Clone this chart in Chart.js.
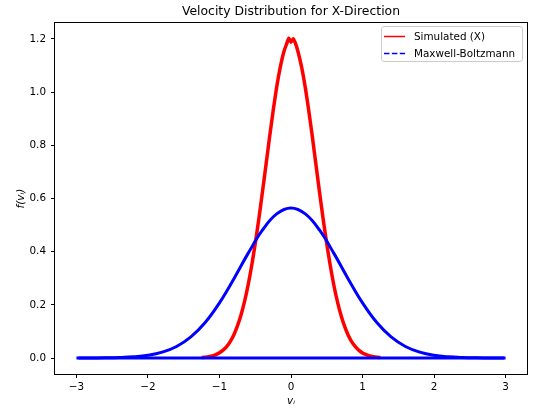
<!DOCTYPE html>
<html><head><meta charset="utf-8">
<script src="https://cdn.jsdelivr.net/npm/chart.js@4.4.0/dist/chart.umd.min.js"></script>
<style>
html,body{margin:0;padding:0;background:#fff;}
#wrap{position:relative;width:533px;height:408px;}
#title{position:absolute;left:55px;width:472px;top:4px;height:14px;line-height:14px;text-align:center;font-family:"DejaVu Sans",sans-serif;font-size:12.4px;color:#000;white-space:nowrap;}
#legend{position:absolute;left:381px;top:26px;width:142px;height:36px;border:1px solid #cccccc;border-radius:3px;background:rgba(255,255,255,0.8);font-family:"DejaVu Sans",sans-serif;font-size:10.4px;color:#000;box-sizing:border-box;}
.row{position:absolute;left:0;height:14px;line-height:14px;white-space:nowrap;}
.row svg{position:absolute;left:2px;top:0;}
.row span{position:absolute;left:32px;top:0;}
</style></head>
<body><div id="wrap"><canvas id="c" width="533" height="408"></canvas><div id="title"></div><div id="legend"></div></div>
<script>
const chartTitle = "Velocity Distribution for X-Direction";
const xAxisLabel = "vᵢ";
const yAxisLabel = "f(vᵢ)";
const seriesNames = ["Simulated (X)", "Maxwell-Boltzmann"];
const xTicks = [-3, -2, -1, 0, 1, 2, 3];
const yTicks = [0, 0.2, 0.4, 0.6, 0.8, 1.0, 1.2];

// Simulated distribution (red)
const simX = [-1.25,-1.2,-1.15,-1.1,-1.05,-1.0,-0.95,-0.9,-0.85,-0.8,-0.75,-0.7,-0.65,-0.6,-0.55,-0.5,-0.45,-0.4,-0.35,-0.3,-0.25,-0.2,-0.15,-0.1,
  -0.06,-0.03,0,0.03,0.06,
  0.1,0.15,0.2,0.25,0.3,0.35,0.4,0.45,0.5,0.55,0.6,0.65,0.7,0.75,0.8,0.85,0.9,0.95,1.0,1.05,1.1,1.15,1.2,1.25];
const simY = [0.002,0.003,0.005,0.008,0.013,0.020,0.030,0.043,0.062,0.087,0.120,0.161,0.212,0.274,0.347,0.431,0.523,0.623,0.726,0.830,0.929,1.019,1.094,1.152,
  1.182,1.203,1.188,1.201,1.185,
  1.150,1.092,1.017,0.927,0.829,0.725,0.622,0.522,0.430,0.346,0.273,0.211,0.160,0.119,0.086,0.061,0.043,0.029,0.019,0.013,0.008,0.005,0.003,0.002];

// Maxwell-Boltzmann curve (blue)
const mbX = [-3.0,-2.8,-2.6,-2.4,-2.2,-2.0,-1.8,-1.6,-1.4,-1.2,-1.0,-0.8,-0.6,-0.4,-0.2,0,0.2,0.4,0.6,0.8,1.0,1.2,1.4,1.6,1.8,2.0,2.2,2.4,2.6,2.8,3.0];
const mbY = [0.0001,0.0002,0.0007,0.0018,0.0045,0.0103,0.0221,0.0436,0.0795,0.1337,0.2076,0.2975,0.3936,0.4808,0.5421,0.5642,0.5421,0.4808,0.3936,0.2975,0.2076,0.1337,0.0795,0.0436,0.0221,0.0103,0.0045,0.0018,0.0007,0.0002,0.0001];
// Maxwell-Boltzmann baseline segment seen along f = 0
const mbBaseX = [-2.97, 2.98];
const mbBaseY = [0, 0];

const colors = ["#ff0000", "#0000ff"];
const toPts = (xs, ys) => xs.map((x, i) => ({x: x, y: ys[i]}));
const FONT = '"DejaVu Sans", sans-serif';

const framePlugin = {
  id: 'frame',
  afterDatasetsDraw(chart) {
    const a = chart.chartArea, ctx = chart.ctx;
    ctx.save();
    ctx.strokeStyle = '#000';
    ctx.lineWidth = 1;
    ctx.strokeRect(Math.round(a.left) - 0.5, Math.round(a.top) - 0.5, Math.round(a.right - a.left) + 1, Math.round(a.bottom - a.top) + 1);
    ctx.restore();
  }
};

const fmtX = v => (v < 0 ? '\u2212' + Math.abs(v) : String(v));

const chart = new Chart(document.getElementById('c'), {
  type: 'scatter',
  data: {
    datasets: [
      {label: seriesNames[0], data: toPts(simX, simY), showLine: true, borderColor: colors[0], backgroundColor: colors[0], borderWidth: 3.5, pointRadius: 0, tension: 0.2, order: 2},
      {label: seriesNames[1], data: toPts(mbX, mbY), showLine: true, borderColor: colors[1], backgroundColor: colors[1], borderWidth: 3, pointRadius: 0, tension: 0.4, order: 1},
      {label: seriesNames[1] + ' base', data: toPts(mbBaseX, mbBaseY), showLine: true, borderColor: colors[1], backgroundColor: colors[1], borderWidth: 3, pointRadius: 0, tension: 0, order: 0}
    ]
  },
  options: {
    responsive: false,
    animation: false,
    devicePixelRatio: 1,
    layout: {padding: {left: 0, right: 6, top: 23, bottom: 0}},
    plugins: {
      legend: {display: false},
      tooltip: {enabled: false},
      title: {display: false}
    },
    scales: {
      x: {
        type: 'linear', min: -3.3, max: 3.3,
        afterBuildTicks: s => { s.ticks = xTicks.map(v => ({value: v})); },
        afterFit: s => { s.height = 34; },
        ticks: {callback: v => fmtX(v), color: '#000', font: {family: FONT, size: 10.4}, padding: 3, maxRotation: 0, autoSkip: false},
        grid: {display: true, drawOnChartArea: false, drawTicks: true, tickLength: 4, tickColor: '#000', tickWidth: 1},
        border: {display: false},
        title: {display: true, text: xAxisLabel, color: '#000', font: {family: FONT, size: 10.4, style: 'italic'}, padding: {top: 0, bottom: 0}}
      },
      y: {
        type: 'linear', min: -0.06, max: 1.26,
        afterBuildTicks: s => { s.ticks = yTicks.map(v => ({value: v})); },
        afterFit: s => { s.width = 55; },
        ticks: {callback: v => Number(v).toFixed(1), color: '#000', font: {family: FONT, size: 10.4}, padding: 5, autoSkip: false},
        grid: {display: true, drawOnChartArea: false, drawTicks: true, tickLength: 4, tickColor: '#000', tickWidth: 1},
        border: {display: false},
        title: {display: true, text: yAxisLabel, color: '#000', font: {family: FONT, size: 10.4, style: 'italic'}, padding: {top: 15, bottom: 0}}
      }
    }
  },
  plugins: [framePlugin]
});

document.getElementById('title').textContent = chartTitle;

// Legend (HTML text) built from the series names/colours
const legend = document.getElementById('legend');
seriesNames.forEach((name, i) => {
  const row = document.createElement('div');
  row.className = 'row';
  row.style.top = (2 + i * 17) + 'px';
  const dash = i === 1 ? ' stroke-dasharray="5.5 2.4"' : '';
  row.innerHTML = '<svg width="22" height="14"><line x1="0" y1="7.5" x2="21" y2="7.5" stroke="' + colors[i] + '" stroke-width="1.5"' + dash + '/></svg><span>' + name + '</span>';
  legend.appendChild(row);
});
</script>
</body></html>
